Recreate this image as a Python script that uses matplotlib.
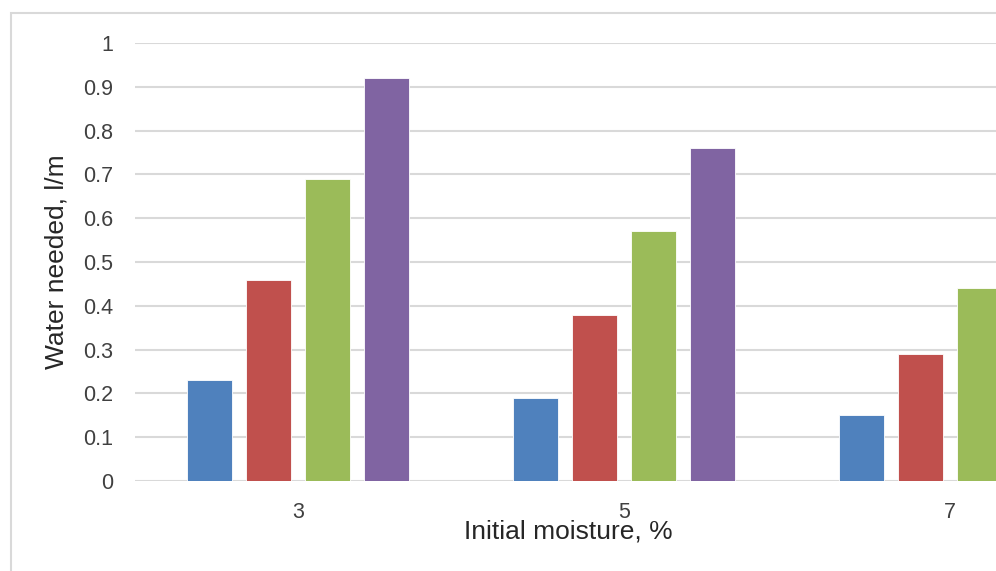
import matplotlib.pyplot as plt
from matplotlib.patches import Rectangle
import numpy as np

plt.rcParams['font.family'] = ['Liberation Sans', 'DejaVu Sans']

# Initial moisture groups and water needed per series
categories = ['3', '5', '7']
series_1 = [0.23, 0.19, 0.15]
series_2 = [0.46, 0.38, 0.29]
series_3 = [0.69, 0.57, 0.44]
series_4 = [0.92, 0.76, 0.59]
colors = ['#4F81BD', '#C0504D', '#9BBB59', '#8064A2']

fig = plt.figure(figsize=(9.96, 5.71), dpi=100)
# plot area runs past the right edge of the canvas
ax = fig.add_axes([135 / 996, 1 - 481 / 571, 978 / 996, 438 / 571])

# light chart-area frame
fig.patches.append(Rectangle((11 / 996, -0.2), 1.2, 1.2 - 13 / 571,
                             transform=fig.transFigure, fill=False,
                             edgecolor='#d9d9d9', linewidth=1.5, zorder=0))

x = np.arange(len(categories))
step = 0.181
width = 0.141
for i, vals in enumerate([series_1, series_2, series_3, series_4]):
    ax.bar(x + (i - 1.5) * step, vals, width, color=colors[i],
           edgecolor='white', linewidth=0.6, zorder=3)

ax.set_xlim(-0.5, 2.5)
ax.set_ylim(0, 1)
ax.set_yticks(np.arange(0, 1.01, 0.1))
ax.set_yticklabels(['0', '0.1', '0.2', '0.3', '0.4', '0.5', '0.6', '0.7', '0.8', '0.9', '1'])
ax.set_xticks(x)
ax.set_xticklabels(categories)
ax.tick_params(axis='both', length=0, labelsize=15.5, colors='#404040')
ax.tick_params(axis='y', pad=16)
ax.tick_params(axis='x', pad=15)

ax.yaxis.grid(True, color='#d9d9d9', linewidth=1.5, zorder=0)
ax.set_axisbelow(True)
for s in ax.spines.values():
    s.set_visible(False)

ax.set_ylabel('Water needed, l/m', fontsize=19, color='#262626')
ax.yaxis.set_label_coords(-0.068, 0.5)
ax.set_xlabel('Initial moisture, %', fontsize=19, color='#262626')
ax.xaxis.set_label_coords(0.443, -0.089)

fig.savefig('out.png', dpi=100)
